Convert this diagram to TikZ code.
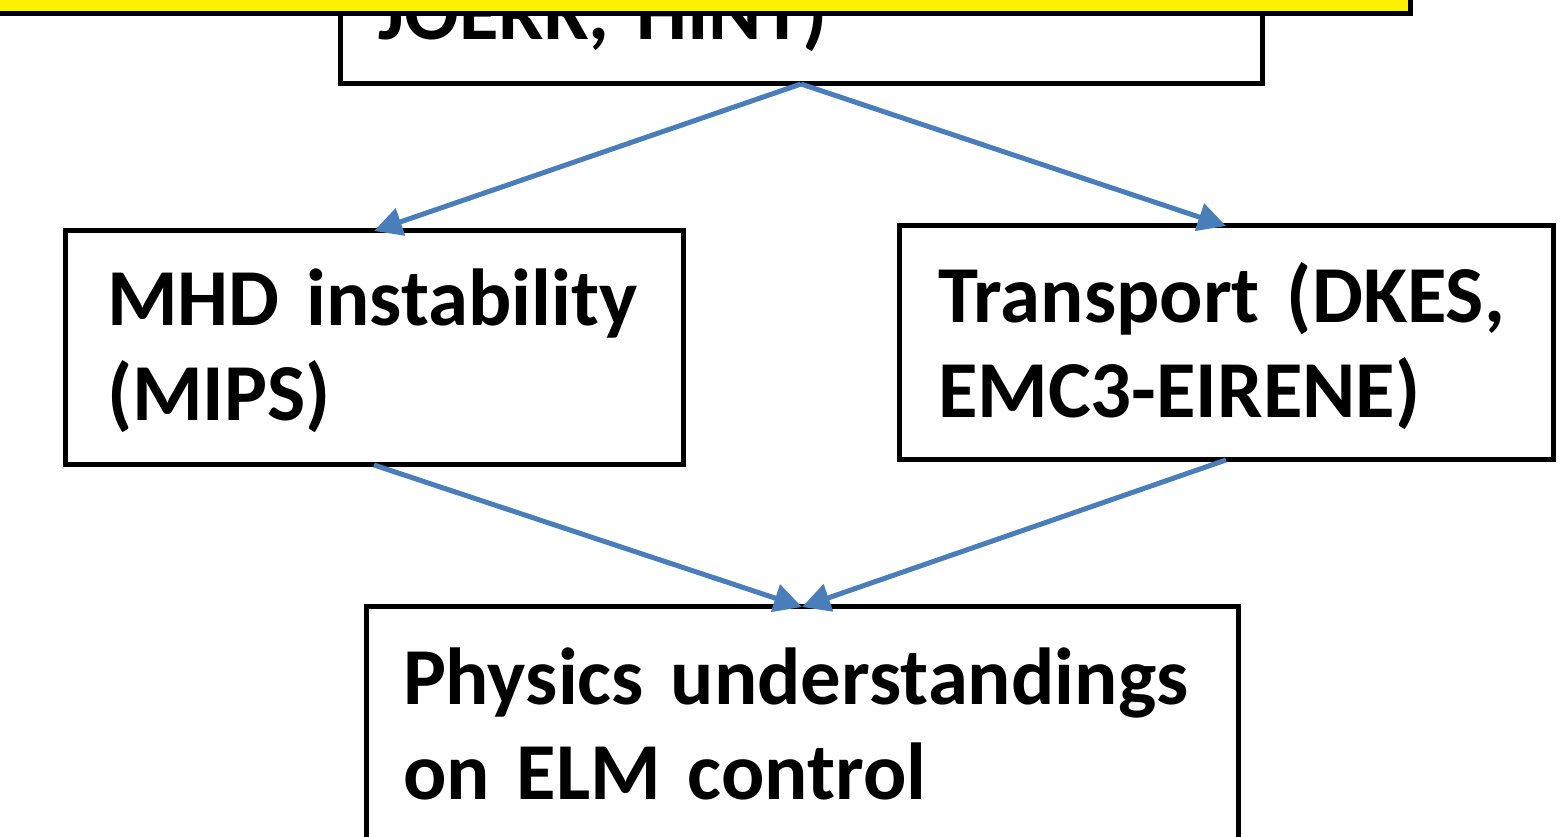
\documentclass[tikz,border=0pt]{standalone}
\usepackage{fontspec}
\setmainfont{Carlito}
\usetikzlibrary{arrows.meta}
\definecolor{linkblue}{RGB}{74,126,187}
\newlength{\pxu}
\setlength{\pxu}{0.02cm}

\begin{document}
\begin{tikzpicture}[x=0.02cm,y=-0.02cm,
    box/.style={draw=black, line width=5\pxu, fill=white, outer sep=0pt,
        inner ysep=0pt, align=left, font=\bfseries\fontsize{46}{54}\selectfont},
    link/.style={draw=linkblue, line width=5\pxu,
        -{Triangle[length=0.56cm,width=0.56cm]}}
    ]
\useasboundingbox (0,0) rectangle (1563,837);
\clip (0,0) rectangle (1563,837);

% boxes
\node[box, anchor=south west, inner xsep=38\pxu, text width=846\pxu,
    text height=200\pxu, text depth=44\pxu] (codes) at (340,84) {JOERK,~HINT)};
\node[box, anchor=north west, inner xsep=42\pxu, text width=534\pxu,
    text height=95\pxu, text depth=139\pxu] (mhd) at (65,231)
    {MHD~instability\\(MIPS)};
\node[box, anchor=north west, inner xsep=39\pxu, text width=576\pxu,
    text height=97\pxu, text depth=137\pxu] (trans) at (899,226)
    {Transport~(DKES,\\EMC3-EIRENE)};
\node[box, anchor=north west, inner xsep=37\pxu, text width=798\pxu,
    text height=98\pxu, text depth=195\pxu] (phys) at (366,607)
    {Physics~understandings\\on~ELM~control};

% yellow box on top
\draw[fill=yellow, line width=5\pxu] (-20,-200) rectangle (1410,14);

% arrows
\draw[link] (codes.south) -- (mhd.north);
\draw[link] (codes.south) -- (trans.north);
\draw[link] (mhd.south) -- (phys.north);
\draw[link] (trans.south) -- (phys.north);
\end{tikzpicture}
\end{document}
